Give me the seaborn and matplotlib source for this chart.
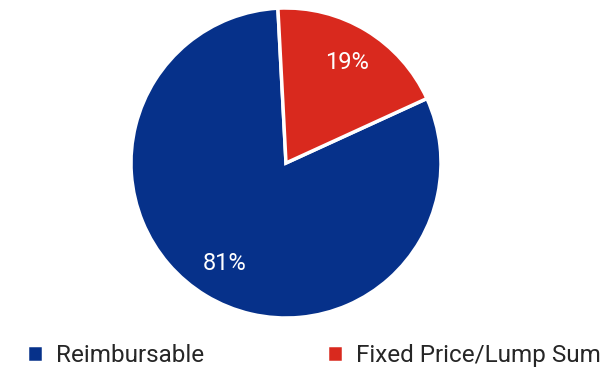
import matplotlib
matplotlib.use('Agg')
import matplotlib.pyplot as plt
import seaborn as sns

labels = ['Reimbursable', 'Fixed Price/Lump Sum']
shares = [81, 19]
colors = ['#06318A', '#D9291E']

sns.set_style('white')
plt.rcParams['font.family'] = ['Roboto', 'DejaVu Sans']
palette = sns.color_palette(colors)

fig = plt.figure(figsize=(6.13, 3.70), dpi=100)
ax = fig.add_axes([131 / 613, 52 / 370, 310 / 613, 310 / 370])

wedges, texts, autotexts = ax.pie(
    shares, colors=palette, startangle=93, counterclock=True,
    autopct='%d%%', pctdistance=0.76,
    wedgeprops=dict(edgecolor='white', linewidth=2.5),
    textprops=dict(color='white', fontsize=17))
ax.set_xlim(-1, 1)
ax.set_ylim(-1, 1)
ax.set_aspect('equal')

fig.legend(wedges, labels, loc='center left', bbox_to_anchor=(0.028, 0.04),
           ncol=2, frameon=False, fontsize=17.5, handlelength=0.68, handleheight=0.68,
           handletextpad=0.52, columnspacing=5.05, borderaxespad=0)

fig.savefig('out.png', dpi=100)
